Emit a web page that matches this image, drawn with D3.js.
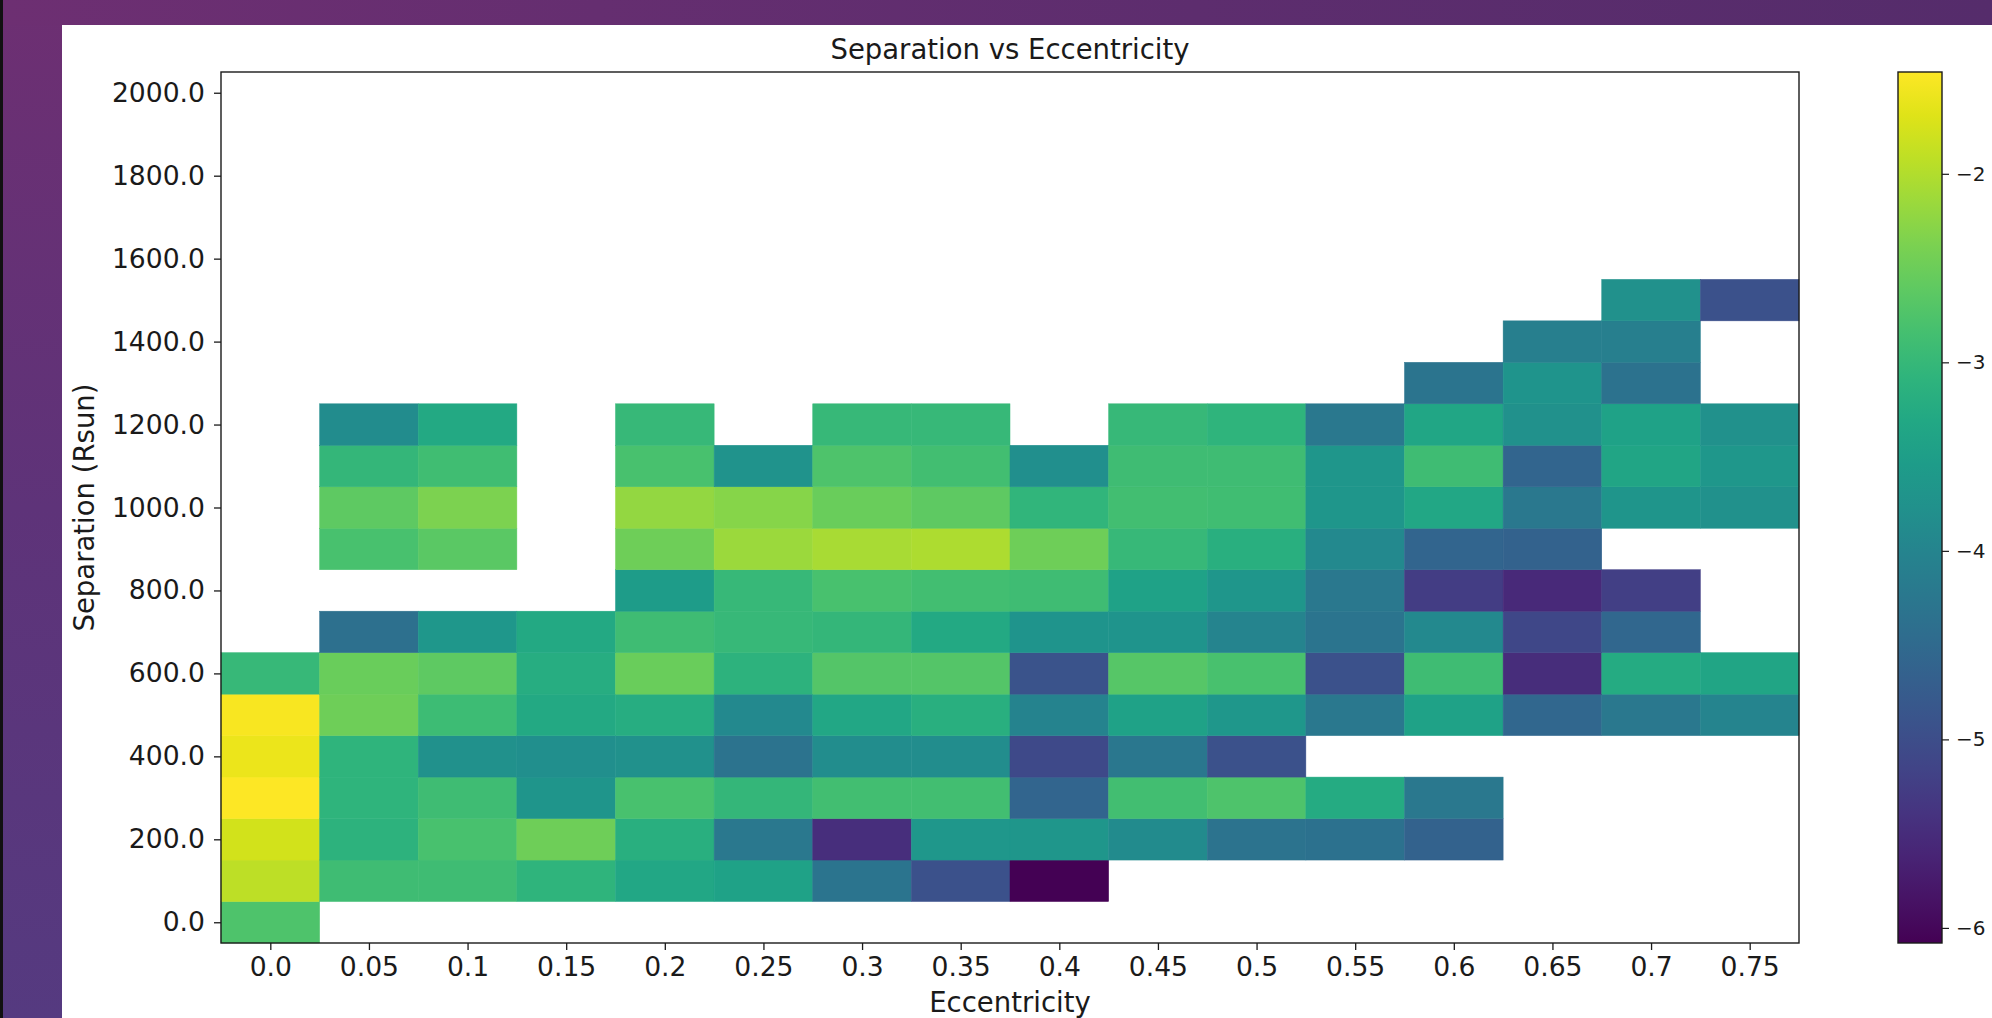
<!DOCTYPE html>
<html>
<head>
<meta charset="utf-8">
<script src="https://cdn.jsdelivr.net/npm/d3@7"></script>
<style>
  html, body { margin: 0; padding: 0; background: #000; }
  svg { display: block; }
  text { font-family: "DejaVu Sans", sans-serif; fill: #1a1a1a; }
</style>
</head>
<body>
<script>
// Eccentricity bins (columns) and their tick labels
const eccentricity = [0, 0.05, 0.1, 0.15, 0.2, 0.25, 0.3, 0.35, 0.4, 0.45, 0.5, 0.55, 0.6, 0.65, 0.7, 0.75];
const eccLabels = ["0.0", "0.05", "0.1", "0.15", "0.2", "0.25", "0.3", "0.35", "0.4", "0.45", "0.5", "0.55", "0.6", "0.65", "0.7", "0.75"];

// Separation bins (rows, Rsun) and the labelled ticks
const separation = [0, 100, 200, 300, 400, 500, 600, 700, 800, 900, 1000, 1100, 1200, 1300, 1400, 1500, 1600, 1700, 1800, 1900, 2000];
const sepTicks = [0, 200, 400, 600, 800, 1000, 1200, 1400, 1600, 1800, 2000];
const sepTickLabels = ["0.0", "200.0", "400.0", "600.0", "800.0", "1000.0", "1200.0", "1400.0", "1600.0", "1800.0", "2000.0"];

// log10 values per separation row, one entry per eccentricity bin (null = empty bin)
const sep0    = [-2.75, null, null, null, null, null, null, null, null, null, null, null, null, null, null, null];
const sep100  = [-1.92, -2.89, -2.89, -3.08, -3.33, -3.42, -4.30, -4.93, -6.08, null, null, null, null, null, null, null];
const sep200  = [-1.78, -3.12, -2.80, -2.48, -3.16, -4.23, -5.48, -3.63, -3.65, -3.87, -4.32, -4.36, -4.65, null, null, null];
const sep300  = [-1.46, -3.08, -2.90, -3.67, -2.80, -3.03, -2.85, -2.85, -4.60, -2.85, -2.75, -3.25, -4.23, null, null, null];
const sep400  = [-1.60, -3.08, -3.77, -3.80, -3.77, -4.32, -3.83, -3.83, -5.06, -4.25, -4.93, null, null, null, null, null];
const sep500  = [-1.50, -2.48, -2.92, -3.30, -3.20, -3.90, -3.33, -3.16, -4.02, -3.42, -3.63, -4.23, -3.42, -4.55, -4.23, -4.00];
const sep600  = [-2.98, -2.52, -2.61, -3.20, -2.52, -3.12, -2.70, -2.70, -4.90, -2.68, -2.80, -4.93, -2.89, -5.50, -3.25, -3.37];
const sep700  = [null, -4.40, -3.63, -3.30, -2.90, -2.98, -3.03, -3.30, -3.68, -3.68, -4.00, -4.30, -3.90, -5.10, -4.55, null];
const sep800  = [null, null, null, null, -3.54, -2.98, -2.80, -2.85, -2.90, -3.42, -3.65, -4.23, -5.25, -5.55, -5.23, null];
const sep900  = [null, -2.80, -2.65, null, -2.48, -2.15, -2.06, -2.03, -2.48, -2.98, -3.16, -3.90, -4.60, -4.65, null, null];
const sep1000 = [null, -2.61, -2.38, null, -2.20, -2.30, -2.52, -2.61, -3.05, -2.85, -2.87, -3.65, -3.33, -4.23, -3.67, -3.77];
const sep1100 = [null, -3.03, -2.87, null, -2.80, -3.70, -2.75, -2.85, -3.80, -2.89, -2.90, -3.65, -2.90, -4.60, -3.37, -3.63];
const sep1200 = [null, -3.85, -3.30, null, -2.98, null, -2.98, -2.98, null, -2.98, -3.08, -4.23, -3.35, -3.77, -3.42, -3.77];
const sep1300 = [null, null, null, null, null, null, null, null, null, null, null, null, -4.30, -3.68, -4.33, null];
const sep1400 = [null, null, null, null, null, null, null, null, null, null, null, null, null, -4.10, -4.10, null];
const sep1500 = [null, null, null, null, null, null, null, null, null, null, null, null, null, null, -3.77, -4.93];

const valueRows = [sep0, sep100, sep200, sep300, sep400, sep500, sep600, sep700, sep800,
                   sep900, sep1000, sep1100, sep1200, sep1300, sep1400, sep1500];

// Colour range and colourbar ticks
const colorDomain = [-6.08, -1.46];
const colorTicks = [-2, -3, -4, -5, -6];

const W = 1992, H = 1018;
const plot = { left: 221, right: 1799, top: 72, bottom: 943 };
const cbar = { left: 1898, right: 1942, top: 72, bottom: 943 };

const svg = d3.select("body").append("svg").attr("width", W).attr("height", H);
const defs = svg.append("defs");

// Window frame: purple strip on the left and top
const gLeft = defs.append("linearGradient").attr("id", "frameLeft")
  .attr("x1", 0).attr("y1", 0).attr("x2", 0).attr("y2", 1);
gLeft.append("stop").attr("offset", "0%").attr("stop-color", "#6d2f72");
gLeft.append("stop").attr("offset", "50%").attr("stop-color", "#5e3379");
gLeft.append("stop").attr("offset", "100%").attr("stop-color", "#553a80");
const gTop = defs.append("linearGradient").attr("id", "frameTop")
  .attr("x1", 0).attr("y1", 0).attr("x2", 1).attr("y2", 0);
gTop.append("stop").attr("offset", "0%").attr("stop-color", "#6d2f72");
gTop.append("stop").attr("offset", "60%").attr("stop-color", "#5d2d6e");
gTop.append("stop").attr("offset", "100%").attr("stop-color", "#552c6b");

svg.append("rect").attr("x", 0).attr("y", 0).attr("width", 62).attr("height", H).attr("fill", "url(#frameLeft)");
svg.append("rect").attr("x", 0).attr("y", 0).attr("width", W).attr("height", 25).attr("fill", "url(#frameTop)");
svg.append("rect").attr("x", 0).attr("y", 0).attr("width", 3).attr("height", H).attr("fill", "#111");
svg.append("rect").attr("x", 62).attr("y", 25).attr("width", W - 62).attr("height", H - 25).attr("fill", "#ffffff");

// Scales
const x = d3.scaleLinear().domain([-0.025, 0.775]).range([plot.left, plot.right]);
const y = d3.scaleLinear().domain([-50, 2050]).range([plot.bottom, plot.top]);
const color = d3.scaleSequential(d3.interpolateViridis).domain(colorDomain);

// Heatmap cells
const cells = [];
valueRows.forEach((row, i) => {
  row.forEach((v, j) => {
    if (v !== null) cells.push({ e: eccentricity[j], s: separation[i], v: v });
  });
});
const halfE = 0.025, halfS = 50;
svg.append("g").selectAll("rect").data(cells).join("rect")
  .attr("x", d => x(d.e - halfE))
  .attr("y", d => y(d.s + halfS))
  .attr("width", d => x(d.e + halfE) - x(d.e - halfE))
  .attr("height", d => y(d.s - halfS) - y(d.s + halfS))
  .attr("fill", d => color(d.v))
  .attr("stroke", d => color(d.v))
  .attr("stroke-width", 0.5);

// Axes
const xAxis = d3.axisBottom(x).tickValues(eccentricity)
  .tickFormat((d, i) => eccLabels[i]).tickSize(7).tickPadding(7);
const yAxis = d3.axisLeft(y).tickValues(sepTicks)
  .tickFormat((d, i) => sepTickLabels[i]).tickSize(7).tickPadding(9);

const gx = svg.append("g").attr("transform", `translate(0,${plot.bottom})`).call(xAxis);
const gy = svg.append("g").attr("transform", `translate(${plot.left},0)`).call(yAxis);
[gx, gy].forEach(g => {
  g.select(".domain").remove();
  g.selectAll(".tick line").attr("stroke", "#1a1a1a").attr("stroke-width", 1.3);
  g.selectAll(".tick text").style("font-size", "26.6px").style("font-family", "DejaVu Sans").attr("fill", "#1a1a1a");
});

// Plot frame
svg.append("rect")
  .attr("x", plot.left).attr("y", plot.top)
  .attr("width", plot.right - plot.left).attr("height", plot.bottom - plot.top)
  .attr("fill", "none").attr("stroke", "#1a1a1a").attr("stroke-width", 1.4);

// Titles
svg.append("text").attr("x", (plot.left + plot.right) / 2).attr("y", 59)
  .attr("text-anchor", "middle").style("font-size", "27.5px").text("Separation vs Eccentricity");
svg.append("text").attr("x", (plot.left + plot.right) / 2).attr("y", 1012)
  .attr("text-anchor", "middle").style("font-size", "27.5px").text("Eccentricity");
svg.append("text")
  .attr("transform", `translate(94,${(plot.top + plot.bottom) / 2}) rotate(-90)`)
  .attr("text-anchor", "middle").style("font-size", "27.5px").text("Separation (Rsun)");

// Colourbar
const cScale = d3.scaleLinear().domain(colorDomain).range([cbar.bottom, cbar.top]);
const grad = defs.append("linearGradient").attr("id", "viridisBar")
  .attr("x1", 0).attr("y1", 1).attr("x2", 0).attr("y2", 0);
d3.range(0, 1.0001, 0.05).forEach(t => {
  grad.append("stop").attr("offset", `${t * 100}%`).attr("stop-color", d3.interpolateViridis(t));
});
svg.append("rect")
  .attr("x", cbar.left).attr("y", cbar.top)
  .attr("width", cbar.right - cbar.left).attr("height", cbar.bottom - cbar.top)
  .attr("fill", "url(#viridisBar)").attr("stroke", "#1a1a1a").attr("stroke-width", 1.4);

const cAxis = d3.axisRight(cScale).tickValues(colorTicks)
  .tickFormat(d => "\u2212" + Math.abs(d)).tickSize(7).tickPadding(7);
const gc = svg.append("g").attr("transform", `translate(${cbar.right},0)`).call(cAxis);
gc.select(".domain").remove();
gc.selectAll(".tick line").attr("stroke", "#1a1a1a").attr("stroke-width", 1.2);
gc.selectAll(".tick text").style("font-size", "20px").style("font-family", "DejaVu Sans").attr("fill", "#1a1a1a");
</script>
</body>
</html>
